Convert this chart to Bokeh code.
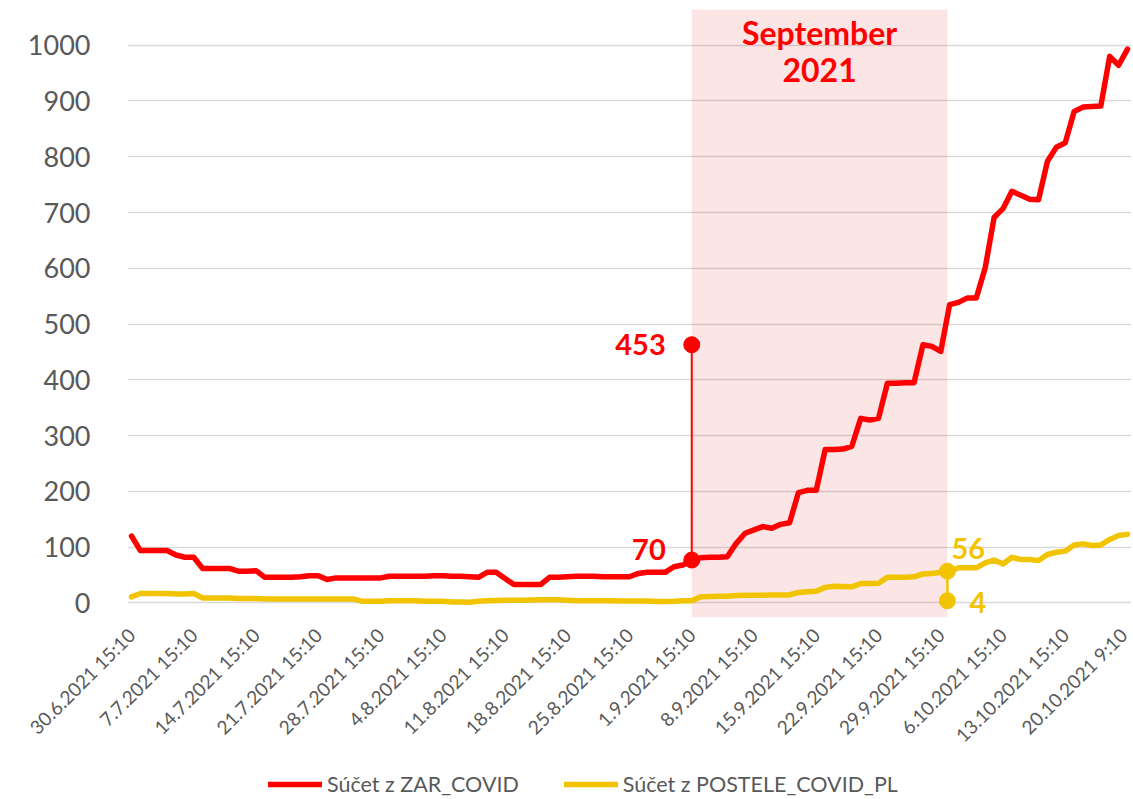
import math
from bokeh.plotting import figure
from bokeh.layouts import column
from bokeh.models import (FixedTicker, BoxAnnotation, Legend, LegendItem, Label,
                          ColumnDataSource)
from bokeh.embed import file_html
from bokeh.resources import INLINE

# ---------------- data ----------------
tick_labels = ["30.6.2021 15:10", "7.7.2021 15:10", "14.7.2021 15:10", "21.7.2021 15:10",
               "28.7.2021 15:10", "4.8.2021 15:10", "11.8.2021 15:10", "18.8.2021 15:10",
               "25.8.2021 15:10", "1.9.2021 15:10", "8.9.2021 15:10", "15.9.2021 15:10",
               "22.9.2021 15:10", "29.9.2021 15:10", "6.10.2021 15:10", "13.10.2021 15:10",
               "20.10.2021 9:10"]

zar_covid = [120, 94, 94, 94, 94, 86, 82, 82, 62, 62,
             62, 62, 57, 57, 58, 46, 46, 46, 46, 47,
             49, 49, 42, 45, 45, 45, 45, 45, 45, 48,
             48, 48, 48, 48, 49, 49, 48, 48, 47, 46,
             55, 55, 44, 33, 33, 33, 33, 46, 46, 47,
             48, 48, 48, 47, 47, 47, 47, 53, 55, 55,
             55, 65, 68, 77, 81, 82, 82, 83, 107, 125,
             131, 137, 134, 141, 144, 198, 202, 202, 275, 275,
             276, 281, 331, 328, 331, 394, 394, 395, 395, 463,
             460, 451, 535, 539, 547, 547, 601, 691, 707, 738,
             731, 724, 723, 792, 817, 825, 881, 889, 890, 891,
             980, 964, 993]

postele_covid_pl = [11, 17, 17, 17, 17, 16, 16, 17, 9, 9,
                    9, 9, 8, 8, 8, 7, 7, 7, 7, 7,
                    7, 7, 7, 7, 7, 7, 3, 3, 3, 4,
                    4, 4, 4, 3, 3, 3, 2, 2, 1.5, 3,
                    4, 4.5, 5, 5, 5, 5.5, 6, 6, 6, 5,
                    4, 4, 4, 4, 4, 3.5, 3.5, 3.5, 3.5, 2.5,
                    2.5, 3, 4, 4, 11, 11.5, 12, 12, 13.5, 14,
                    14, 14, 14.5, 14.5, 14.5, 19, 20, 21, 28, 30,
                    29.5, 29, 35, 35, 35.5, 46, 46, 46, 47, 52,
                    53, 55, 58, 63, 63, 63, 72, 77, 70, 82,
                    78, 78, 76, 87, 91, 93, 104, 106, 103, 104,
                    114, 121, 123]

series_names = ["Súčet z ZAR_COVID", "Súčet z POSTELE_COVID_PL"]

day_index = list(range(len(zar_covid)))
tick_index = list(range(0, len(zar_covid), 7))

# annotation values
sept_start, sept_end = 63, 91.75
red_ann_vals = [77, 463]
red_ann_text = ["70", "453"]
yel_ann_vals = [4, 57]
yel_ann_text = ["4", "56"]

RED = "#FF0000"
YEL = "#F2C400"
GRAY = "#595959"
FONT = "Lato"

p = figure(width=1131, height=772, x_range=(-0.45, 112.45), y_range=(-26, 1064),
           output_backend="svg", toolbar_location=None,
           min_border_left=127, min_border_right=0, min_border_top=9, min_border_bottom=155)
p.outline_line_color = None
p.background_fill_color = "white"

p.xgrid.grid_line_color = None
p.ygrid.grid_line_color = "#D9D9D9"
p.ygrid.grid_line_width = 1.3

p.yaxis.ticker = FixedTicker(ticks=list(range(0, 1001, 100)))
p.yaxis.axis_line_color = None
p.yaxis.major_tick_line_color = None
p.yaxis.minor_tick_line_color = None
p.yaxis.major_label_standoff = 31
p.yaxis.major_label_text_font = FONT
p.yaxis.major_label_text_font_size = "27px"
p.yaxis.major_label_text_color = GRAY

p.xaxis.ticker = FixedTicker(ticks=tick_index)
p.xaxis.major_label_overrides = {t: l for t, l in zip(tick_index, tick_labels)}
p.xaxis.major_label_orientation = math.pi / 4
p.xaxis.axis_line_color = None
p.xaxis.major_tick_line_color = None
p.xaxis.minor_tick_line_color = None
p.xaxis.major_label_standoff = 8
p.xaxis.major_label_text_font = FONT
p.xaxis.major_label_text_font_size = "19px"
p.xaxis.major_label_text_color = GRAY

band = BoxAnnotation(left=sept_start, right=sept_end, fill_color="#E00000", fill_alpha=0.1,
                     line_color=None, level="underlay")
p.add_layout(band)

src = ColumnDataSource(dict(x=day_index, zar=zar_covid, post=postele_covid_pl))
r1 = p.line("x", "zar", source=src, line_color=RED, line_width=5.5,
            line_join="round", line_cap="round")
r2 = p.line("x", "post", source=src, line_color=YEL, line_width=5.5,
            line_join="round", line_cap="round")

# annotations
p.segment(x0=[sept_start], y0=[red_ann_vals[0]], x1=[sept_start], y1=[red_ann_vals[1]],
          line_color=RED, line_width=2)
p.scatter(x=[sept_start] * 2, y=red_ann_vals, size=16, color=RED)
p.segment(x0=[sept_end], y0=[yel_ann_vals[0]], x1=[sept_end], y1=[yel_ann_vals[1]],
          line_color=YEL, line_width=2.5)
p.scatter(x=[sept_end] * 2, y=yel_ann_vals, size=16, color=YEL)

lab_kw = dict(text_baseline="middle", text_font=FONT, text_font_style="bold",
              text_font_size="29px")
p.add_layout(Label(x=sept_start, y=red_ann_vals[1], x_offset=-26, text=red_ann_text[1],
                   text_align="right", text_color=RED, **lab_kw))
p.add_layout(Label(x=sept_start, y=red_ann_vals[0], x_offset=-26, y_offset=11,
                   text=red_ann_text[0], text_align="right", text_color=RED, **lab_kw))
p.add_layout(Label(x=sept_end, y=yel_ann_vals[1], x_offset=4, y_offset=23,
                   text=yel_ann_text[1], text_align="left", text_color=YEL, **lab_kw))
p.add_layout(Label(x=sept_end, y=yel_ann_vals[0], x_offset=22, y_offset=-2,
                   text=yel_ann_text[0], text_align="left", text_color=YEL, **lab_kw))

mid = (sept_start + sept_end) / 2
p.add_layout(Label(x=mid, y=1023, text="September", text_align="center",
                   text_baseline="middle", text_color=RED, text_font=FONT,
                   text_font_style="bold", text_font_size="32px"))
p.add_layout(Label(x=mid, y=955, text="2021", text_align="center",
                   text_baseline="middle", text_color=RED, text_font=FONT,
                   text_font_style="bold", text_font_size="32px"))

# ---------------- legend strip (same series, view window shows none of the data) ----
p2 = figure(width=1131, height=26, x_range=(0, 1), y_range=(5000, 5001),
            output_backend="svg", toolbar_location=None,
            x_axis_type=None, y_axis_type=None,
            min_border_left=0, min_border_right=0, min_border_top=0, min_border_bottom=0)
p2.outline_line_color = None
p2.xgrid.grid_line_color = None
p2.ygrid.grid_line_color = None
l1 = p2.line("x", "zar", source=src, line_color=RED, line_width=5.5, line_cap="round")
l2 = p2.line("x", "post", source=src, line_color=YEL, line_width=5.5, line_cap="round")
legend = Legend(items=[LegendItem(label=series_names[0], renderers=[l1]),
                       LegendItem(label=series_names[1], renderers=[l2])],
                orientation="horizontal", location=(141, 1),
                label_text_font=FONT, label_text_font_size="21.5px", label_text_color=GRAY,
                glyph_width=54, glyph_height=24, label_height=24, label_standoff=5,
                spacing=45, padding=0, margin=0, border_line_alpha=0,
                background_fill_alpha=0)
p2.add_layout(legend)

open("out.html", "w").write(file_html(column(p, p2, spacing=0), INLINE))
